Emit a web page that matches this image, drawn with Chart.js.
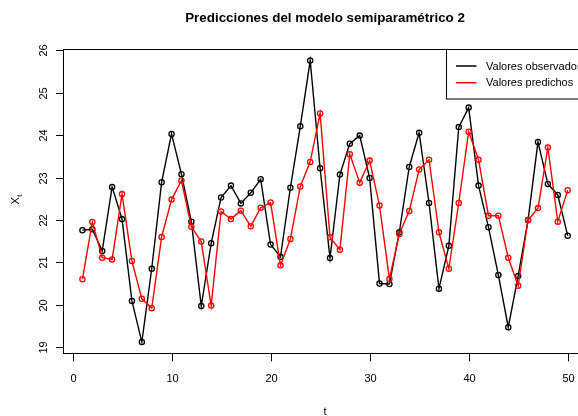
<!DOCTYPE html>
<html>
<head>
<meta charset="utf-8">
<script src="https://cdn.jsdelivr.net/npm/chart.js@4/dist/chart.umd.min.js"></script>
<style>
  html, body { margin: 0; padding: 0; background: #fff; overflow: hidden; width: 578px; height: 416px; }
  canvas { display: block; }
</style>
</head>
<body>
<canvas id="c" width="600" height="416"></canvas>
<script>
// Time index
const t = [1, 2, 3, 4, 5, 6, 7, 8, 9, 10, 11, 12, 13, 14, 15, 16, 17, 18, 19, 20,
           21, 22, 23, 24, 25, 26, 27, 28, 29, 30, 31, 32, 33, 34, 35, 36, 37, 38, 39, 40,
           41, 42, 43, 44, 45, 46, 47, 48, 49, 50];

// Observed series X_t
const observados = [21.76, 21.78, 21.27, 22.78, 22.02, 20.09, 19.12, 20.85, 22.89, 24.03,
                    23.08, 21.96, 19.97, 21.45, 22.53, 22.81, 22.39, 22.64, 22.96, 21.42,
                    21.13, 22.76, 24.21, 25.76, 23.22, 21.10, 23.07, 23.80, 23.99, 22.99,
                    20.50, 20.49, 21.71, 23.25, 24.06, 22.40, 20.38, 21.39, 24.19, 24.65,
                    22.81, 21.83, 20.70, 19.47, 20.68, 22.00, 23.84, 22.85, 22.59, 21.63];

// Predictions of the semiparametric model
const predichos = [20.60, 21.95, 21.11, 21.07, 22.61, 21.03, 20.14, 19.92, 21.60, 22.48,
                   22.93, 21.84, 21.49, 19.98, 22.20, 22.02, 22.22, 21.85, 22.29, 22.41,
                   20.93, 21.55, 22.79, 23.37, 24.51, 21.59, 21.30, 23.55, 22.88, 23.40,
                   22.34, 20.61, 21.67, 22.21, 23.19, 23.42, 21.71, 20.85, 22.40, 24.08,
                   23.42, 22.10, 22.10, 21.11, 20.45, 22.00, 22.28, 23.71, 21.96, 22.70];

// Axis tick labels
const xTicks = [0, 10, 20, 30, 40, 50];
const yTicks = [19, 20, 21, 22, 23, 24, 25, 26];

const titulo = 'Predicciones del modelo semiparamétrico 2';
const etiquetaX = 't';
const leyenda = ['Valores observados', 'Valores predichos'];
const colores = ['#000000', '#ff0000'];

// Axis ranges padded by 4% on each side
function padded(lo, hi) {
  const r = hi - lo;
  return [lo - 0.04 * r, hi + 0.04 * r];
}
const [xMin, xMax] = padded(Math.min(...t), Math.max(...t));
const [yMin, yMax] = padded(Math.min(...observados), Math.max(...observados));

const FONT = '"Liberation Sans", Arial, Helvetica, sans-serif';

const axesPlugin = {
  id: 'baseAxes',
  afterDraw(chart) {
    const ctx = chart.ctx;
    const a = chart.chartArea;
    const xs = chart.scales.x, ys = chart.scales.y;
    ctx.save();
    ctx.strokeStyle = '#000';
    ctx.fillStyle = '#000';
    ctx.lineWidth = 1;

    // plot box
    ctx.strokeRect(Math.round(a.left) + 0.5, Math.round(a.top) + 0.5,
                   Math.round(a.right - a.left), Math.round(a.bottom - a.top));

    // x axis ticks and labels
    ctx.font = '11px ' + FONT;
    ctx.textAlign = 'center';
    ctx.textBaseline = 'alphabetic';
    xTicks.forEach(v => {
      const px = Math.round(xs.getPixelForValue(v)) + 0.5;
      ctx.beginPath();
      ctx.moveTo(px, a.bottom);
      ctx.lineTo(px, a.bottom + 8);
      ctx.stroke();
      ctx.fillText(String(v), px, 382);
    });

    // y axis ticks and rotated labels
    yTicks.forEach(v => {
      const py = Math.round(ys.getPixelForValue(v)) + 0.5;
      ctx.beginPath();
      ctx.moveTo(a.left, py);
      ctx.lineTo(a.left - 7, py);
      ctx.stroke();
      ctx.save();
      ctx.translate(46.6, py);
      ctx.rotate(-Math.PI / 2);
      ctx.fillText(String(v), 0, 0);
      ctx.restore();
    });

    // title
    ctx.font = 'bold 13.4px ' + FONT;
    ctx.textAlign = 'center';
    ctx.fillText(titulo, (a.left + a.right) / 2, 21.7);

    // x label
    ctx.font = '11px ' + FONT;
    ctx.fillText(etiquetaX, (a.left + a.right) / 2, 414.5);

    // y label X with subscript t
    ctx.save();
    ctx.translate(19, 204.5);
    ctx.rotate(-Math.PI / 2);
    ctx.textAlign = 'left';
    ctx.font = '11px ' + FONT;
    ctx.fillText('X', 0, 0);
    const w = ctx.measureText('X').width;
    ctx.font = '8px ' + FONT;
    ctx.fillText('t', w + 0.5, 2.5);
    ctx.restore();

    // legend box anchored at the top-right corner of the plot
    const lx = 446.5, ly = Math.round(a.top) + 0.5, lh = 49.5;
    ctx.fillStyle = '#fff';
    ctx.fillRect(lx, ly, a.right - lx, lh);
    ctx.strokeStyle = '#000';
    ctx.strokeRect(lx, ly, Math.round(a.right) - lx, lh);
    const rows = [66, 82.7];
    ctx.font = '11px ' + FONT;
    ctx.textAlign = 'left';
    ctx.textBaseline = 'middle';
    leyenda.forEach((txt, i) => {
      ctx.strokeStyle = colores[i];
      ctx.lineWidth = 1.5;
      ctx.beginPath();
      ctx.moveTo(456, rows[i]);
      ctx.lineTo(476.5, rows[i]);
      ctx.stroke();
      ctx.fillStyle = '#000';
      ctx.fillText(txt, 486, rows[i] + 0.5);
    });
    ctx.restore();
  }
};

const toXY = arr => t.map((ti, i) => ({ x: ti, y: arr[i] }));

new Chart(document.getElementById('c'), {
  type: 'line',
  data: {
    datasets: [
      {
        label: leyenda[0],
        data: toXY(observados),
        borderColor: colores[0],
        backgroundColor: 'transparent',
        borderWidth: 1.4,
        pointRadius: 2.6,
        pointBorderWidth: 1.3,
        pointBorderColor: colores[0],
        pointBackgroundColor: 'transparent',
        tension: 0,
        order: 2
      },
      {
        label: leyenda[1],
        data: toXY(predichos),
        borderColor: colores[1],
        backgroundColor: 'transparent',
        borderWidth: 1.4,
        pointRadius: 2.6,
        pointBorderWidth: 1.3,
        pointBorderColor: colores[1],
        pointBackgroundColor: 'transparent',
        tension: 0,
        order: 1
      }
    ]
  },
  options: {
    responsive: false,
    animation: false,
    devicePixelRatio: 1,
    layout: { padding: { left: 63, right: 12.9, top: 49.3, bottom: 62.7 } },
    plugins: { legend: { display: false }, tooltip: { enabled: false }, title: { display: false } },
    scales: {
      x: { type: 'linear', min: xMin, max: xMax, display: false },
      y: { type: 'linear', min: yMin, max: yMax, display: false }
    }
  },
  plugins: [axesPlugin]
});
</script>
</body>
</html>
